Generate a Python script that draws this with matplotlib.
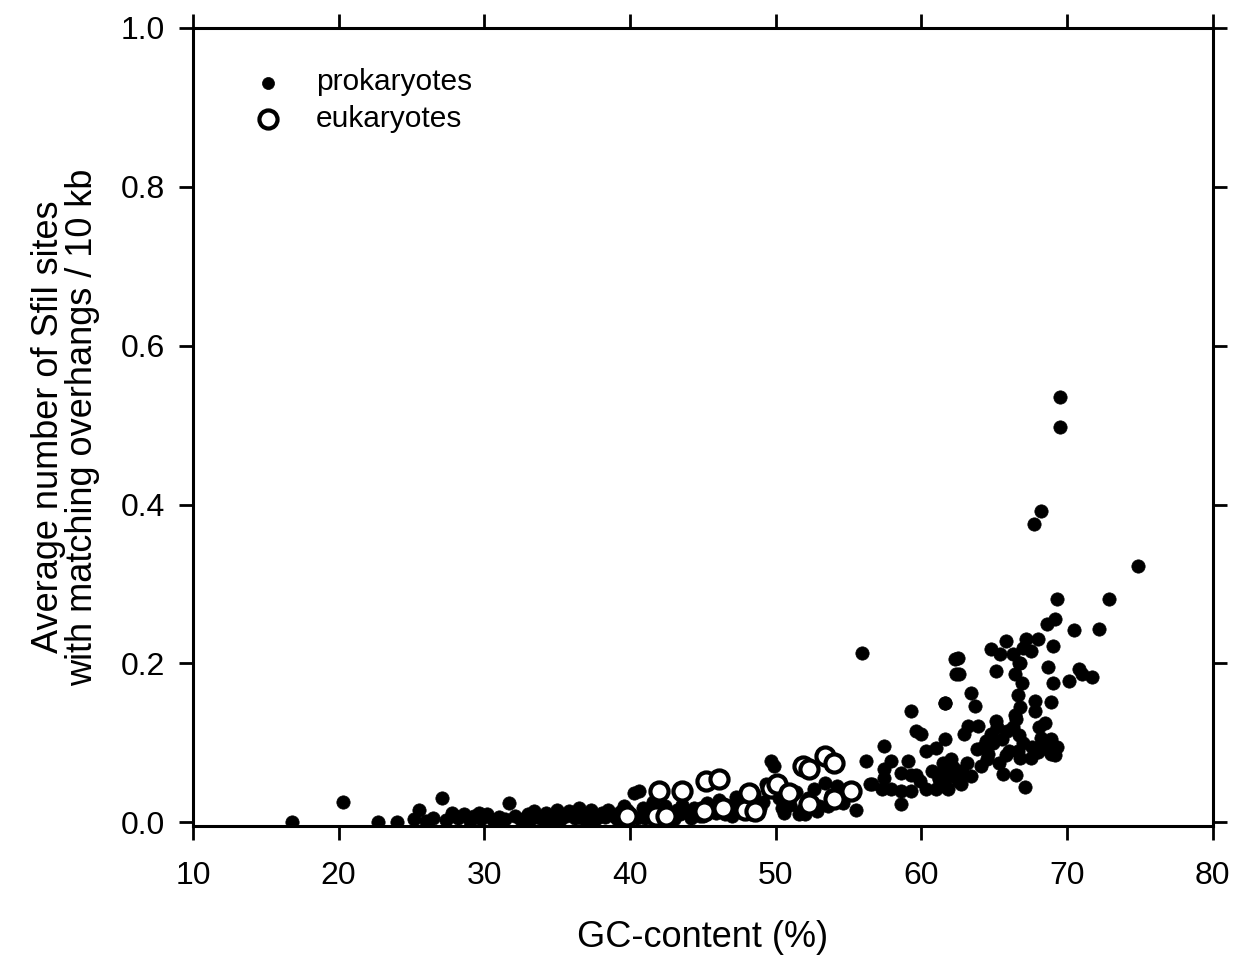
import matplotlib
matplotlib.use("Agg")
import matplotlib.pyplot as plt

plt.rcParams['font.family'] = ['Liberation Sans', 'DejaVu Sans']

# prokaryotes: GC-content (%) and average number of SfiI sites / 10 kb
prok_gc = [
    16.8, 20.3, 22.7, 24.0, 25.2, 25.5, 26.0, 26.5, 27.1, 27.4, 27.8, 28.2, 28.6, 29.0,
    29.3, 29.8, 30.2, 30.6, 31.0, 31.4, 31.7, 32.1, 32.5, 33.0, 33.4, 33.8, 34.2, 34.6,
    35.0, 35.4, 35.8, 36.2, 36.5, 36.9, 37.3, 37.7, 38.1, 38.5, 38.9, 39.3, 39.6, 40.0,
    40.3, 40.6, 40.9, 41.2, 41.6, 42.0, 42.4, 42.8, 43.2, 43.6, 44.0, 44.4, 44.8, 45.3,
    45.7, 46.1, 46.5, 46.9, 47.3, 47.7, 48.1, 48.5, 48.9, 49.3, 49.7, 49.9, 50.2, 50.6,
    51.0, 51.4, 51.8, 52.2, 52.6, 53.0, 53.4, 53.8, 54.2, 54.6, 55.0, 55.5, 55.9,
    28.0, 29.6, 30.9, 32.8, 34.0, 35.6, 37.0, 38.7, 41.0, 43.0, 44.6, 47.0, 50.4, 52.0,
    33.2, 34.4, 35.2, 36.0, 36.7, 37.5, 38.3, 39.1, 39.8, 40.5, 41.4, 42.2, 43.4, 44.2,
    45.0, 45.9, 46.7, 47.5, 48.3, 49.1, 50.8, 51.6, 52.8, 53.6, 54.4,
    56.2, 56.5, 56.6, 57.3, 57.4, 57.4, 57.4, 57.9, 57.9, 58.6, 58.6, 58.6, 59.1, 59.3,
    59.3, 59.3, 59.6, 59.6, 59.9, 60.0, 60.3, 60.3, 60.7, 61.0, 61.0, 61.2, 61.5, 61.6,
    61.6, 61.6, 61.8, 62.1, 62.3, 62.4, 62.5, 62.6, 62.7, 62.7, 62.9, 63.2, 63.4, 63.7,
    63.8, 63.9, 64.1, 64.4, 64.6, 64.8, 64.8, 65.1, 65.1, 65.3, 65.4, 65.6, 65.8, 66.0,
    66.3, 66.4, 66.8, 66.8, 67.0, 67.1, 67.2, 67.5, 67.5, 67.7, 67.8, 68.0, 68.2, 68.2,
    68.5, 68.6, 68.7, 68.9, 68.9, 69.0, 69.0, 69.2, 69.3, 69.5, 69.5, 70.1, 70.5, 70.8,
    71.0, 71.7, 72.2, 72.9, 74.9,
    61.2, 61.5, 61.9, 62.2, 62.5, 62.8, 63.1, 63.4, 62.0, 61.7,
    66.5, 66.6, 66.7, 66.5, 66.8, 66.6, 66.9, 67.0, 66.3, 66.7, 66.4,
    64.2, 64.9, 65.5, 65.8, 64.5, 65.2, 65.9,
    67.6, 68.0, 68.4, 68.8, 69.2, 69.3, 68.1, 67.8, 68.9,
]
prok_sites = [
    0.000, 0.025, 0.000, 0.000, 0.004, 0.016, 0.002, 0.006, 0.030, 0.003, 0.012, 0.005, 0.010, 0.002,
    0.008, 0.004, 0.010, 0.003, 0.007, 0.004, 0.024, 0.008, 0.003, 0.010, 0.014, 0.006, 0.012, 0.004,
    0.016, 0.009, 0.014, 0.005, 0.018, 0.010, 0.015, 0.006, 0.012, 0.016, 0.008, 0.013, 0.020, 0.010,
    0.037, 0.039, 0.018, 0.008, 0.025, 0.014, 0.020, 0.010, 0.016, 0.022, 0.012, 0.018, 0.008, 0.024,
    0.015, 0.028, 0.010, 0.020, 0.032, 0.014, 0.024, 0.036, 0.018, 0.048, 0.077, 0.071, 0.030, 0.012,
    0.022, 0.038, 0.016, 0.030, 0.042, 0.020, 0.050, 0.034, 0.046, 0.024, 0.040, 0.016, 0.213,
    0.008, 0.012, 0.002, 0.006, 0.004, 0.008, 0.004, 0.010, 0.006, 0.004, 0.010, 0.008, 0.018, 0.010,
    0.004, 0.008, 0.003, 0.010, 0.006, 0.003, 0.007, 0.004, 0.015, 0.006, 0.016, 0.006, 0.010, 0.006,
    0.008, 0.012, 0.016, 0.022, 0.010, 0.026, 0.028, 0.010, 0.014, 0.020, 0.032,
    0.077, 0.048, 0.048, 0.042, 0.096, 0.067, 0.056, 0.077, 0.042, 0.062, 0.023, 0.039, 0.077, 0.140,
    0.039, 0.060, 0.115, 0.060, 0.052, 0.111, 0.042, 0.090, 0.064, 0.093, 0.042, 0.056, 0.074, 0.150,
    0.105, 0.150, 0.042, 0.060, 0.205, 0.187, 0.207, 0.187, 0.064, 0.048, 0.111, 0.121, 0.163, 0.146,
    0.092, 0.121, 0.071, 0.102, 0.086, 0.218, 0.111, 0.190, 0.127, 0.075, 0.212, 0.061, 0.228, 0.090,
    0.212, 0.187, 0.200, 0.081, 0.220, 0.045, 0.231, 0.216, 0.081, 0.375, 0.153, 0.231, 0.392, 0.106,
    0.125, 0.250, 0.195, 0.151, 0.086, 0.222, 0.175, 0.256, 0.281, 0.536, 0.497, 0.178, 0.242, 0.193,
    0.187, 0.183, 0.243, 0.281, 0.322,
    0.055, 0.065, 0.058, 0.070, 0.052, 0.062, 0.075, 0.058, 0.080, 0.045,
    0.060, 0.090, 0.110, 0.130, 0.145, 0.160, 0.175, 0.100, 0.120, 0.200, 0.135,
    0.095, 0.100, 0.105, 0.085, 0.080, 0.120, 0.115,
    0.095, 0.088, 0.100, 0.090, 0.085, 0.095, 0.120, 0.140, 0.105,
]

# eukaryotes
euk_gc = [39.8, 41.8, 42.0, 42.5, 43.6, 45.1, 45.2, 46.1, 46.4, 47.9, 48.2, 48.6,
          49.7, 50.1, 50.9, 51.9, 52.3, 52.3, 53.4, 54.0, 54.0, 55.2]
euk_sites = [0.008, 0.008, 0.039, 0.008, 0.039, 0.014, 0.052, 0.055, 0.018, 0.016, 0.037, 0.014,
             0.043, 0.048, 0.037, 0.071, 0.067, 0.023, 0.083, 0.074, 0.029, 0.039]

x_ticks = [10, 20, 30, 40, 50, 60, 70, 80]
y_ticks = [0.0, 0.2, 0.4, 0.6, 0.8, 1.0]

fig = plt.figure(figsize=(12.49, 9.63), dpi=100)
ax = fig.add_axes([0.1545, 0.142, 0.8165, 0.829])

ax.scatter(prok_gc, prok_sites, s=92, c='black', edgecolors='black', linewidths=0.5,
           zorder=2, label='prokaryotes')
ax.scatter(euk_gc, euk_sites, s=170, facecolors='white', edgecolors='black', linewidths=3.0,
           zorder=3, label='eukaryotes')

ax.set_xlim(10, 80)
ax.set_ylim(-0.005, 1.0)
ax.set_xticks(x_ticks)
ax.set_yticks(y_ticks)
ax.set_yticklabels(['%.1f' % v for v in y_ticks])
ax.tick_params(direction='out', length=10, width=2, labelsize=23,
               top=True, right=True)
ax.tick_params(axis='x', pad=15)
ax.tick_params(axis='y', pad=10)
for sp in ax.spines.values():
    sp.set_linewidth(2.2)

ax.set_xlabel('GC-content (%)', fontsize=26, labelpad=21)
ax.set_ylabel('Average number of SfiI sites\nwith matching overhangs / 10 kb',
              fontsize=26, labelpad=15, linespacing=0.95)

leg = ax.legend(loc='upper left', bbox_to_anchor=(0.018, 0.983), frameon=False,
                fontsize=21.5, handletextpad=0.6, labelspacing=0.3)
leg.legend_handles[0].set_sizes([75])
leg.legend_handles[1].set_sizes([170])

fig.savefig('out.png', dpi=100)
